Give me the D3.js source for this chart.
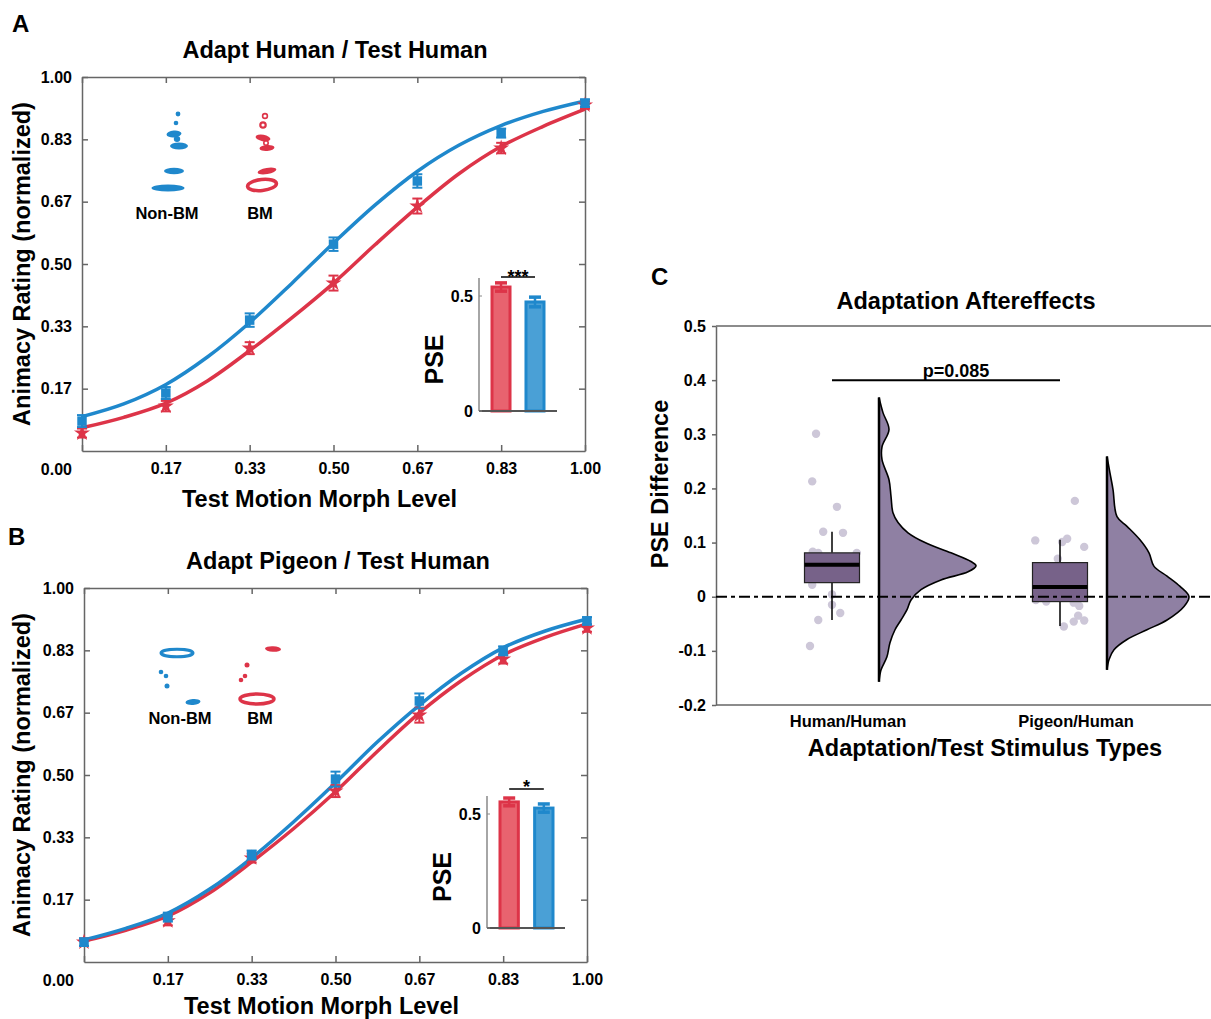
<!DOCTYPE html>
<html><head><meta charset="utf-8">
<script src="https://cdn.jsdelivr.net/npm/d3@7"></script>
<style>
body{margin:0;background:#fff;}
text{font-family:"Liberation Sans",Arial,sans-serif;font-weight:bold;fill:#000;}
</style></head>
<body>
<svg id="c" width="1211" height="1019"></svg>
<script>
// ---------------- DATA ----------------
const morphLevels = [0, 1/6, 2/6, 3/6, 4/6, 5/6, 1];
const morphTickLabels = ["0.00","0.17","0.33","0.50","0.67","0.83","1.00"];
const fitLevels = [0, 0.083, 0.167, 0.25, 0.333, 0.417, 0.5, 0.583, 0.667, 0.75, 0.833, 0.917, 1];

// Panel A: Adapt Human / Test Human
const nonBM_A_mean = [0.080, 0.155, 0.350, 0.553, 0.722, 0.850, 0.930];
const nonBM_A_err  = [0.016, 0.016, 0.018, 0.018, 0.018, 0.012, 0.010];
const BM_A_mean    = [0.048, 0.120, 0.275, 0.449, 0.655, 0.810, 0.925];
const BM_A_err     = [0.012, 0.014, 0.016, 0.020, 0.020, 0.014, 0.010];
const nonBM_A_fit  = [0.092, 0.126, 0.178, 0.252, 0.343, 0.448, 0.556, 0.658, 0.748, 0.818, 0.870, 0.908, 0.936];
const BM_A_fit     = [0.062, 0.090, 0.128, 0.188, 0.268, 0.356, 0.449, 0.552, 0.652, 0.742, 0.814, 0.868, 0.914];
const PSE_A_mean = [0.539, 0.474];   // BM, Non-BM
const PSE_A_err  = [0.018, 0.021];
const PSE_A_sig = "***";

// Panel B: Adapt Pigeon / Test Human
const nonBM_B_mean = [0.053, 0.120, 0.286, 0.489, 0.698, 0.832, 0.912];
const nonBM_B_err  = [0.010, 0.012, 0.012, 0.020, 0.020, 0.012, 0.010];
const BM_B_mean    = [0.053, 0.110, 0.278, 0.457, 0.660, 0.810, 0.893];
const BM_B_err     = [0.010, 0.012, 0.012, 0.016, 0.020, 0.012, 0.010];
const nonBM_B_fit  = [0.059, 0.090, 0.131, 0.195, 0.278, 0.375, 0.479, 0.588, 0.687, 0.772, 0.840, 0.885, 0.917];
const BM_B_fit     = [0.056, 0.085, 0.123, 0.185, 0.267, 0.357, 0.455, 0.563, 0.666, 0.752, 0.821, 0.868, 0.904];
const PSE_B_mean = [0.553, 0.526];
const PSE_B_err  = [0.017, 0.018];
const PSE_B_sig = "*";

// Panel C: Adaptation aftereffects
const cCategories = ["Human/Human", "Pigeon/Human"];
const cTicks = [0.5, 0.4, 0.3, 0.2, 0.1, 0, -0.1, -0.2];
const cTickLabels = ["0.5","0.4","0.3","0.2","0.1","0","-0.1","-0.2"];
// box stats: [whiskerLo, q1, median, q3, whiskerHi]
const boxHH = [-0.043, 0.026, 0.059, 0.081, 0.120];
const boxPH = [-0.054, -0.009, 0.018, 0.063, 0.105];
// individual PSE differences and their jitter (fraction of box width)
const dotsHH = [0.301, 0.213, 0.166, 0.120, 0.118, 0.083, 0.081, 0.081, 0.022, 0.004, -0.015, -0.030, -0.043, -0.091];
const jitterHH = [-0.29, -0.36, 0.09, -0.16, 0.20, -0.35, 0.45, -0.25, -0.36, 0.0, 0.0, 0.15, -0.25, -0.40];
const dotsPH = [0.177, 0.104, 0.101, 0.107, 0.092, 0.070, -0.006, -0.009, -0.011, -0.017, -0.035, -0.046, -0.044, -0.055];
const jitterPH = [0.27, -0.45, 0.04, 0.13, 0.44, -0.04, -0.44, -0.25, 0.25, 0.35, 0.33, 0.25, 0.44, 0.07];
// half-violin density profiles: [value, relative density]
const violinHH = [[0.368,0],[0.340,0.041],[0.309,0.103],[0.277,0.031],[0.253,0.031],[0.216,0.103],[0.185,0.124],[0.155,0.144],[0.137,0.196],[0.118,0.299],[0.100,0.474],[0.081,0.742],[0.065,0.948],[0.057,1.0],[0.046,0.918],[0.031,0.639],[0.013,0.433],[-0.006,0.330],[-0.024,0.289],[-0.043,0.227],[-0.061,0.165],[-0.085,0.113],[-0.111,0.082],[-0.135,0.021],[-0.157,0]];
const violinPH = [[0.259,0],[0.229,0.030],[0.198,0.062],[0.148,0.103],[0.130,0.206],[0.105,0.340],[0.081,0.433],[0.056,0.485],[0.038,0.619],[0.019,0.753],[0,0.845],[-0.018,0.794],[-0.043,0.619],[-0.061,0.412],[-0.079,0.206],[-0.098,0.072],[-0.116,0.021],[-0.135,0]];
const cSigText = "p=0.085";
const cSigLevel = 0.4;

// ---------------- STYLE ----------------
const RED = "#dd3448", BLUE = "#1f88cc";
const RED_FILL = "#e8636f", BLUE_FILL = "#4aa0d6";
const AX = "#666";
const TICK_FS = "16px", TITLE_FS = "23.5px", SMALL_FS = "16.5px";
const svg = d3.select("#c");

// ---------------- PANELS A & B ----------------
function psyPanel(o) {
  const x = d3.scaleLinear().domain([0,1]).range([o.x0, o.x1]);
  const y = d3.scaleLinear().domain([0,1]).range([o.y0, o.y1]);
  const g = svg.append("g");
  const yTickVals = morphLevels.slice(1);
  // axes
  const axL = g.append("g").attr("transform",`translate(${o.x0},0)`)
    .call(d3.axisLeft(y).tickValues(yTickVals).tickFormat((d,i)=>morphTickLabels[i+1]).tickSizeInner(-6).tickSizeOuter(0).tickPadding(10));
  const axB = g.append("g").attr("transform",`translate(0,${o.y0})`)
    .call(d3.axisBottom(x).tickValues(morphLevels).tickFormat((d,i)=> i===0 ? "" : morphTickLabels[i]).tickSizeInner(-6).tickSizeOuter(0).tickPadding(12));
  const axT = g.append("g").attr("transform",`translate(0,${o.y1})`)
    .call(d3.axisTop(x).tickValues(morphLevels).tickFormat("").tickSizeInner(-6).tickSizeOuter(0));
  const axR = g.append("g").attr("transform",`translate(${o.x1},0)`)
    .call(d3.axisRight(y).tickValues(yTickVals).tickFormat("").tickSizeInner(-6).tickSizeOuter(0));
  [axL,axB,axT,axR].forEach(a=>{
    a.selectAll("path,line").attr("stroke",AX).attr("stroke-width",1.5);
    a.selectAll("text").style("font-size",TICK_FS).style("font-family",'"Liberation Sans",Arial,sans-serif').style("font-weight","bold").attr("fill","#000");
  });
  // the 0.00 label sits under the y labels
  g.append("text").attr("x", o.x0 - 10).attr("y", o.y0 + 24).attr("text-anchor","end").style("font-size",TICK_FS).text(morphTickLabels[0]);

  // titles
  g.append("text").attr("x", o.titleX).attr("y", o.y1 - 19).attr("text-anchor","middle").style("font-size",TITLE_FS).text(o.title);
  g.append("text").attr("transform",`translate(22,${(o.y0+o.y1)/2}) rotate(-90)`).attr("text-anchor","middle").attr("dy","0.35em").style("font-size",TITLE_FS).text("Animacy Rating (normalized)");
  g.append("text").attr("x", (o.x0+o.x1)/2 - 14).attr("y", o.xTitleY).attr("text-anchor","middle").style("font-size",TITLE_FS).text("Test Motion Morph Level");
  g.append("text").attr("x", o.letterX).attr("y", o.letterY).style("font-size","24px").text(o.letter);

  // fits
  const line = d3.line().x((d,i)=>x(fitLevels[i])).y(d=>y(d)).curve(d3.curveCatmullRom);
  g.append("path").datum(o.bmFit).attr("d",line).attr("fill","none").attr("stroke",RED).attr("stroke-width",3.5);
  g.append("path").datum(o.nbFit).attr("d",line).attr("fill","none").attr("stroke",BLUE).attr("stroke-width",3.5);

  // error bars + markers
  function series(mean, err, color, sym, size) {
    const s = g.append("g");
    mean.forEach((m,i)=>{
      const cx = x(morphLevels[i]);
      const lo = y(m-err[i]), hi = y(m+err[i]);
      s.append("line").attr("x1",cx).attr("x2",cx).attr("y1",lo).attr("y2",hi).attr("stroke",color).attr("stroke-width",2);
      [lo,hi].forEach(yy=>s.append("line").attr("x1",cx-5).attr("x2",cx+5).attr("y1",yy).attr("y2",yy).attr("stroke",color).attr("stroke-width",2));
      s.append("path").attr("d",d3.symbol().type(sym).size(size)()).attr("transform",`translate(${cx},${y(m)})`).attr("fill",color);
    });
  }
  series(o.bmMean, o.bmErr, RED, d3.symbolStar, 80);
  series(o.nbMean, o.nbErr, BLUE, d3.symbolSquare, 90);

  // icons
  const ic = g.append("g");
  o.iconNB.forEach(e=>drawGlyph(ic,e,BLUE));
  o.iconBM.forEach(e=>drawGlyph(ic,e,RED));
  ic.append("text").attr("x",o.nbLabelX).attr("y",o.labelY).attr("text-anchor","middle").style("font-size",SMALL_FS).text("Non-BM");
  ic.append("text").attr("x",o.bmLabelX).attr("y",o.labelY).attr("text-anchor","middle").style("font-size",SMALL_FS).text("BM");

  // inset bar chart
  const ins = o.inset;
  const iy = d3.scaleLinear().domain([0,0.5]).range([ins.y0, ins.y05]);
  const ix = d3.scaleBand().domain(["BM","Non-BM"]).range([ins.bx0, ins.bx1]).paddingInner(0.47).paddingOuter(0);
  const ig = g.append("g");
  const colors = [[RED,RED_FILL],[BLUE,BLUE_FILL]];
  ["BM","Non-BM"].forEach((k,i)=>{
    const m = o.pse[i], e = o.pseErr[i];
    const bx = ix(k), bw = ix.bandwidth();
    ig.append("rect").attr("x",bx).attr("y",iy(m)).attr("width",bw).attr("height",iy(0)-iy(m))
      .attr("fill",colors[i][1]).attr("stroke",colors[i][0]).attr("stroke-width",3);
    const cx = bx + bw/2;
    ig.append("line").attr("x1",cx).attr("x2",cx).attr("y1",iy(m-e)).attr("y2",iy(m+e)).attr("stroke",colors[i][0]).attr("stroke-width",2.5);
    [m-e,m+e].forEach(v=>ig.append("line").attr("x1",cx-6).attr("x2",cx+6).attr("y1",iy(v)).attr("y2",iy(v)).attr("stroke",colors[i][0]).attr("stroke-width",3.5));
  });
  ig.append("line").attr("x1",ins.ax0).attr("x2",ins.ax0).attr("y1",ins.y0).attr("y2",ins.yTop).attr("stroke","#888").attr("stroke-width",1.5);
  ig.append("line").attr("x1",ins.ax0).attr("x2",ins.ax1).attr("y1",ins.y0).attr("y2",ins.y0).attr("stroke","#555").attr("stroke-width",2);
  [0,0.5].forEach(v=>{
    ig.append("line").attr("x1",ins.ax0).attr("x2",ins.ax0+3).attr("y1",iy(v)).attr("y2",iy(v)).attr("stroke","#888");
    ig.append("text").attr("x",ins.ax0-6).attr("y",iy(v)).attr("dy","0.35em").attr("text-anchor","end").style("font-size",TICK_FS).text(v===0?"0":"0.5");
  });
  ig.append("text").attr("transform",`translate(${ins.ax0-45},${(ins.y0+ins.y05)/2+6}) rotate(-90)`).attr("text-anchor","middle").attr("dy","0.35em").style("font-size","25px").text("PSE");
  const c1 = ix("BM")+ix.bandwidth()/2, c2 = ix("Non-BM")+ix.bandwidth()/2;
  ig.append("line").attr("x1",c1).attr("x2",c2).attr("y1",ins.sigY).attr("y2",ins.sigY).attr("stroke","#000").attr("stroke-width",1.5);
  ig.append("text").attr("x",(c1+c2)/2).attr("y",ins.sigY+ (o.sig.length>1?6:4)).attr("text-anchor","middle").style("font-size","18px").text(o.sig);
}

function drawGlyph(g, e, color) {
  // e: [cx, cy, rx, ry, rotation, ring]
  const el = g.append("ellipse").attr("cx",e[0]).attr("cy",e[1]).attr("rx",e[2]).attr("ry",e[3])
    .attr("transform",`rotate(${e[4]},${e[0]},${e[1]})`);
  if (e[5]) el.attr("fill","none").attr("stroke",color).attr("stroke-width",e[5]);
  else el.attr("fill",color);
}

psyPanel({
  x0:82, x1:585, y0:451, y1:77, title:"Adapt Human / Test Human", titleX:335, letter:"A", letterX:12, letterY:32, xTitleY:507,
  bmMean:BM_A_mean, bmErr:BM_A_err, nbMean:nonBM_A_mean, nbErr:nonBM_A_err, bmFit:BM_A_fit, nbFit:nonBM_A_fit,
  pse:PSE_A_mean, pseErr:PSE_A_err, sig:PSE_A_sig,
  inset:{ax0:479, ax1:557, y0:411, y05:296, yTop:278, bx0:492, bx1:544, sigY:277},
  nbLabelX:167, bmLabelX:260, labelY:219,
  iconNB:[[178,114,2.4,2.4,0,0],[176,123,2.3,2.3,0,0],[174,134,7.5,3.4,-5,0],[177,139,3.2,3,0,0],[179,146,9,3.5,0,0],[174,171,10,3.2,0,0],[168,188,16.5,3.6,0,0]],
  iconBM:[[265,116,2.4,2.4,0,1.6],[263,125,2.7,2.7,0,2.2],[263,138,7.5,3.2,10,0],[266,143,2.2,2.2,0,1.6],[267,148,7.5,3,-5,0],[267,171,9.5,3,-10,0],[262,185,14.5,5.5,-6,3.5]]
});

psyPanel({
  x0:84, x1:587, y0:962, y1:588, title:"Adapt Pigeon / Test Human", titleX:338, letter:"B", letterX:8, letterY:545, xTitleY:1014,
  bmMean:BM_B_mean, bmErr:BM_B_err, nbMean:nonBM_B_mean, nbErr:nonBM_B_err, bmFit:BM_B_fit, nbFit:nonBM_B_fit,
  pse:PSE_B_mean, pseErr:PSE_B_err, sig:PSE_B_sig,
  inset:{ax0:487, ax1:565, y0:928, y05:814, yTop:796, bx0:500, bx1:553, sigY:789},
  nbLabelX:180, bmLabelX:260, labelY:724,
  iconNB:[[177,653,16,3.8,0,3],[161,672,2.3,2.3,0,0],[166,676,2.3,2.3,0,0],[167,686,2.5,2.5,0,0],[193,702,7.5,3,-5,0]],
  iconBM:[[273,649,8,2.8,3,0],[247,665,2.5,2.5,0,0],[245,676,2.3,2.3,0,0],[241,680,2.3,2.3,0,0],[257,699,17,5,0,3.5]]
});

// ---------------- PANEL C ----------------
(function(){
  const X0 = 716, X1 = 1211;
  const y = d3.scaleLinear().domain([-0.2,0.5]).range([705,326]);
  const xc = d3.scalePoint().domain(cCategories).range([848,1076]);
  const g = svg.append("g");
  const ax = g.append("g").attr("transform",`translate(${X0},0)`)
    .call(d3.axisLeft(y).tickValues(cTicks).tickFormat((d,i)=>cTickLabels[i]).tickSizeInner(4).tickSizeOuter(0).tickPadding(6));
  ax.selectAll("path,line").attr("stroke",AX).attr("stroke-width",1.5);
  ax.selectAll("text").style("font-size",TICK_FS).style("font-family",'"Liberation Sans",Arial,sans-serif').style("font-weight","bold");
  g.append("line").attr("x1",X0).attr("x2",X1).attr("y1",y(0.5)).attr("y2",y(0.5)).attr("stroke",AX).attr("stroke-width",1.5);
  g.append("line").attr("x1",X0).attr("x2",X1).attr("y1",y(-0.2)).attr("y2",y(-0.2)).attr("stroke",AX).attr("stroke-width",1.5);
  // category labels
  cCategories.forEach(c=>g.append("text").attr("x",xc(c)).attr("y",727).attr("text-anchor","middle").style("font-size",SMALL_FS).text(c));
  g.append("text").attr("x",985).attr("y",756).attr("text-anchor","middle").style("font-size",TITLE_FS).text("Adaptation/Test Stimulus Types");
  g.append("text").attr("x",966).attr("y",309).attr("text-anchor","middle").style("font-size",TITLE_FS).text("Adaptation Aftereffects");
  g.append("text").attr("transform",`translate(660,484) rotate(-90)`).attr("text-anchor","middle").attr("dy","0.35em").style("font-size",TITLE_FS).text("PSE Difference");
  g.append("text").attr("x",651).attr("y",285).style("font-size","24px").text("C");

  const BOXW = 55, BOX_OFF = -16, VIO_OFF = 31;
  const wScale = d3.scaleLinear().domain([0,1]).range([0,97]);
  const groups = [[boxHH,dotsHH,jitterHH,violinHH],[boxPH,dotsPH,jitterPH,violinPH]];
  groups.forEach((gr,i)=>{
    const cx = xc(cCategories[i]) + BOX_OFF;
    const vx = xc(cCategories[i]) + VIO_OFF;
    const [bs, dots, jit, vio] = gr;
    dots.forEach((v,j)=>g.append("circle").attr("cx",cx + jit[j]*BOXW).attr("cy",y(v)).attr("r",4.2).attr("fill","#cdc7d8"));
    g.append("line").attr("x1",cx).attr("x2",cx).attr("y1",y(bs[0])).attr("y2",y(bs[1])).attr("stroke","#000").attr("stroke-width",1.5);
    g.append("line").attr("x1",cx).attr("x2",cx).attr("y1",y(bs[3])).attr("y2",y(bs[4])).attr("stroke","#000").attr("stroke-width",1.5);
    g.append("rect").attr("x",cx-BOXW/2).attr("y",y(bs[3])).attr("width",BOXW).attr("height",y(bs[1])-y(bs[3]))
      .attr("fill","#776289").attr("stroke","#222").attr("stroke-width",1.2);
    g.append("line").attr("x1",cx-BOXW/2).attr("x2",cx+BOXW/2).attr("y1",y(bs[2])).attr("y2",y(bs[2])).attr("stroke","#000").attr("stroke-width",4);
    const area = d3.area().y(d=>y(d[0])).x0(vx).x1(d=>vx + wScale(d[1])).curve(d3.curveCatmullRom);
    g.append("path").datum(vio).attr("d",area).attr("fill","#8f80a3").attr("stroke","#000").attr("stroke-width",1.6);
    g.append("line").attr("x1",vx).attr("x2",vx).attr("y1",y(vio[0][0])).attr("y2",y(vio[vio.length-1][0])).attr("stroke","#000").attr("stroke-width",2.5);
  });
  g.append("line").attr("x1",X0).attr("x2",X1).attr("y1",y(0)).attr("y2",y(0)).attr("stroke","#000").attr("stroke-width",2).attr("stroke-dasharray","11,4,4,4");
  const s1 = xc(cCategories[0]) + BOX_OFF, s2 = xc(cCategories[1]) + BOX_OFF;
  g.append("line").attr("x1",s1).attr("x2",s2).attr("y1",y(cSigLevel)).attr("y2",y(cSigLevel)).attr("stroke","#000").attr("stroke-width",2);
  g.append("text").attr("x",(s1+s2)/2+10).attr("y",y(cSigLevel)-3).attr("text-anchor","middle").style("font-size","18px").text(cSigText);
})();
</script>
</body></html>
